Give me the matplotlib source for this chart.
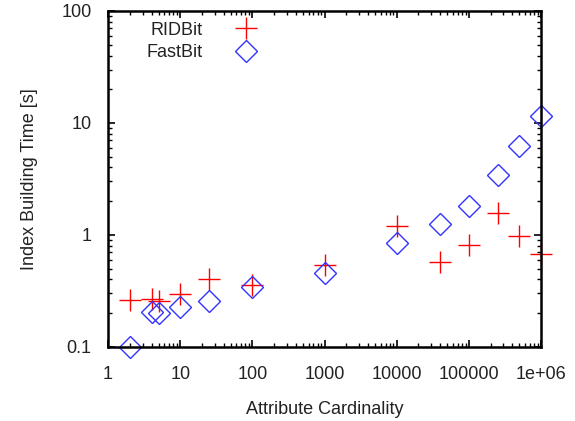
import numpy as np
import matplotlib
matplotlib.use("Agg")
import matplotlib.pyplot as plt
from matplotlib.ticker import LogLocator, NullFormatter

plt.rcParams['font.family'] = ['Liberation Sans', 'DejaVu Sans']

## data
cardinality = [2, 4, 5, 10, 25, 100, 1000, 10000, 40000, 100000, 250000, 500000, 1000000]
ridbit = [0.265, 0.267, 0.256, 0.298, 0.40, 0.36, 0.537, 1.19, 0.575, 0.82, 1.56, 0.975, 0.673]
fastbit = [0.10, 0.206, 0.199, 0.228, 0.256, 0.34, 0.453, 0.84, 1.25, 1.81, 3.44, 6.27, 11.5]

xticks = [1, 10, 100, 1000, 10000, 100000, 1000000]
xticklabels = ['1', '10', '100', '1000', '10000', '100000', '1e+06']
yticks = [0.1, 1, 10, 100]
yticklabels = ['0.1', '1', '10', '100']

fig = plt.figure(figsize=(5.75, 4.21), dpi=100)
ax = fig.add_axes([0.188, 0.176, 0.753, 0.798])

ax.plot(cardinality, ridbit, linestyle='none', marker='+', markersize=16,
        markeredgewidth=1.0, color='#ff0000', label='RIDBit', clip_on=False)
ax.plot(cardinality, fastbit, linestyle='none', marker='D', markersize=11,
        markeredgewidth=1.0, markerfacecolor='none', markeredgecolor='#3333ff',
        label='FastBit', clip_on=False)

ax.set_xscale('log')
ax.set_yscale('log')
ax.set_xlim(1, 1e6)
ax.set_ylim(0.1, 100)

ax.set_xticks(xticks)
ax.set_xticklabels(xticklabels)
ax.set_yticks(yticks)
ax.set_yticklabels(yticklabels)
ax.xaxis.set_minor_locator(LogLocator(base=10, subs=np.arange(2, 10)))
ax.yaxis.set_minor_locator(LogLocator(base=10, subs=np.arange(2, 10)))
ax.xaxis.set_minor_formatter(NullFormatter())
ax.yaxis.set_minor_formatter(NullFormatter())

ax.tick_params(which='both', direction='in', top=True, right=True, labelsize=13,
               labelcolor='#222222')
ax.tick_params(which='major', length=5, width=1.2)
ax.tick_params(axis='x', which='major', pad=14)
ax.tick_params(axis='y', which='major', pad=12)
ax.tick_params(which='minor', length=3, width=1.0)
for s in ax.spines.values():
    s.set_linewidth(1.8)

ax.set_xlabel('Attribute Cardinality', fontsize=13, labelpad=13, color='#222222')
ax.set_ylabel('Index Building Time [s]', fontsize=13, labelpad=17, color='#222222')

ax.legend(loc='upper left', bbox_to_anchor=(0.063, 1.0), frameon=False, markerfirst=False,
          fontsize=13, handlelength=2, handletextpad=1.4, labelspacing=0.3,
          borderaxespad=0.2, labelcolor='#222222')

fig.savefig('out.png', dpi=100)
